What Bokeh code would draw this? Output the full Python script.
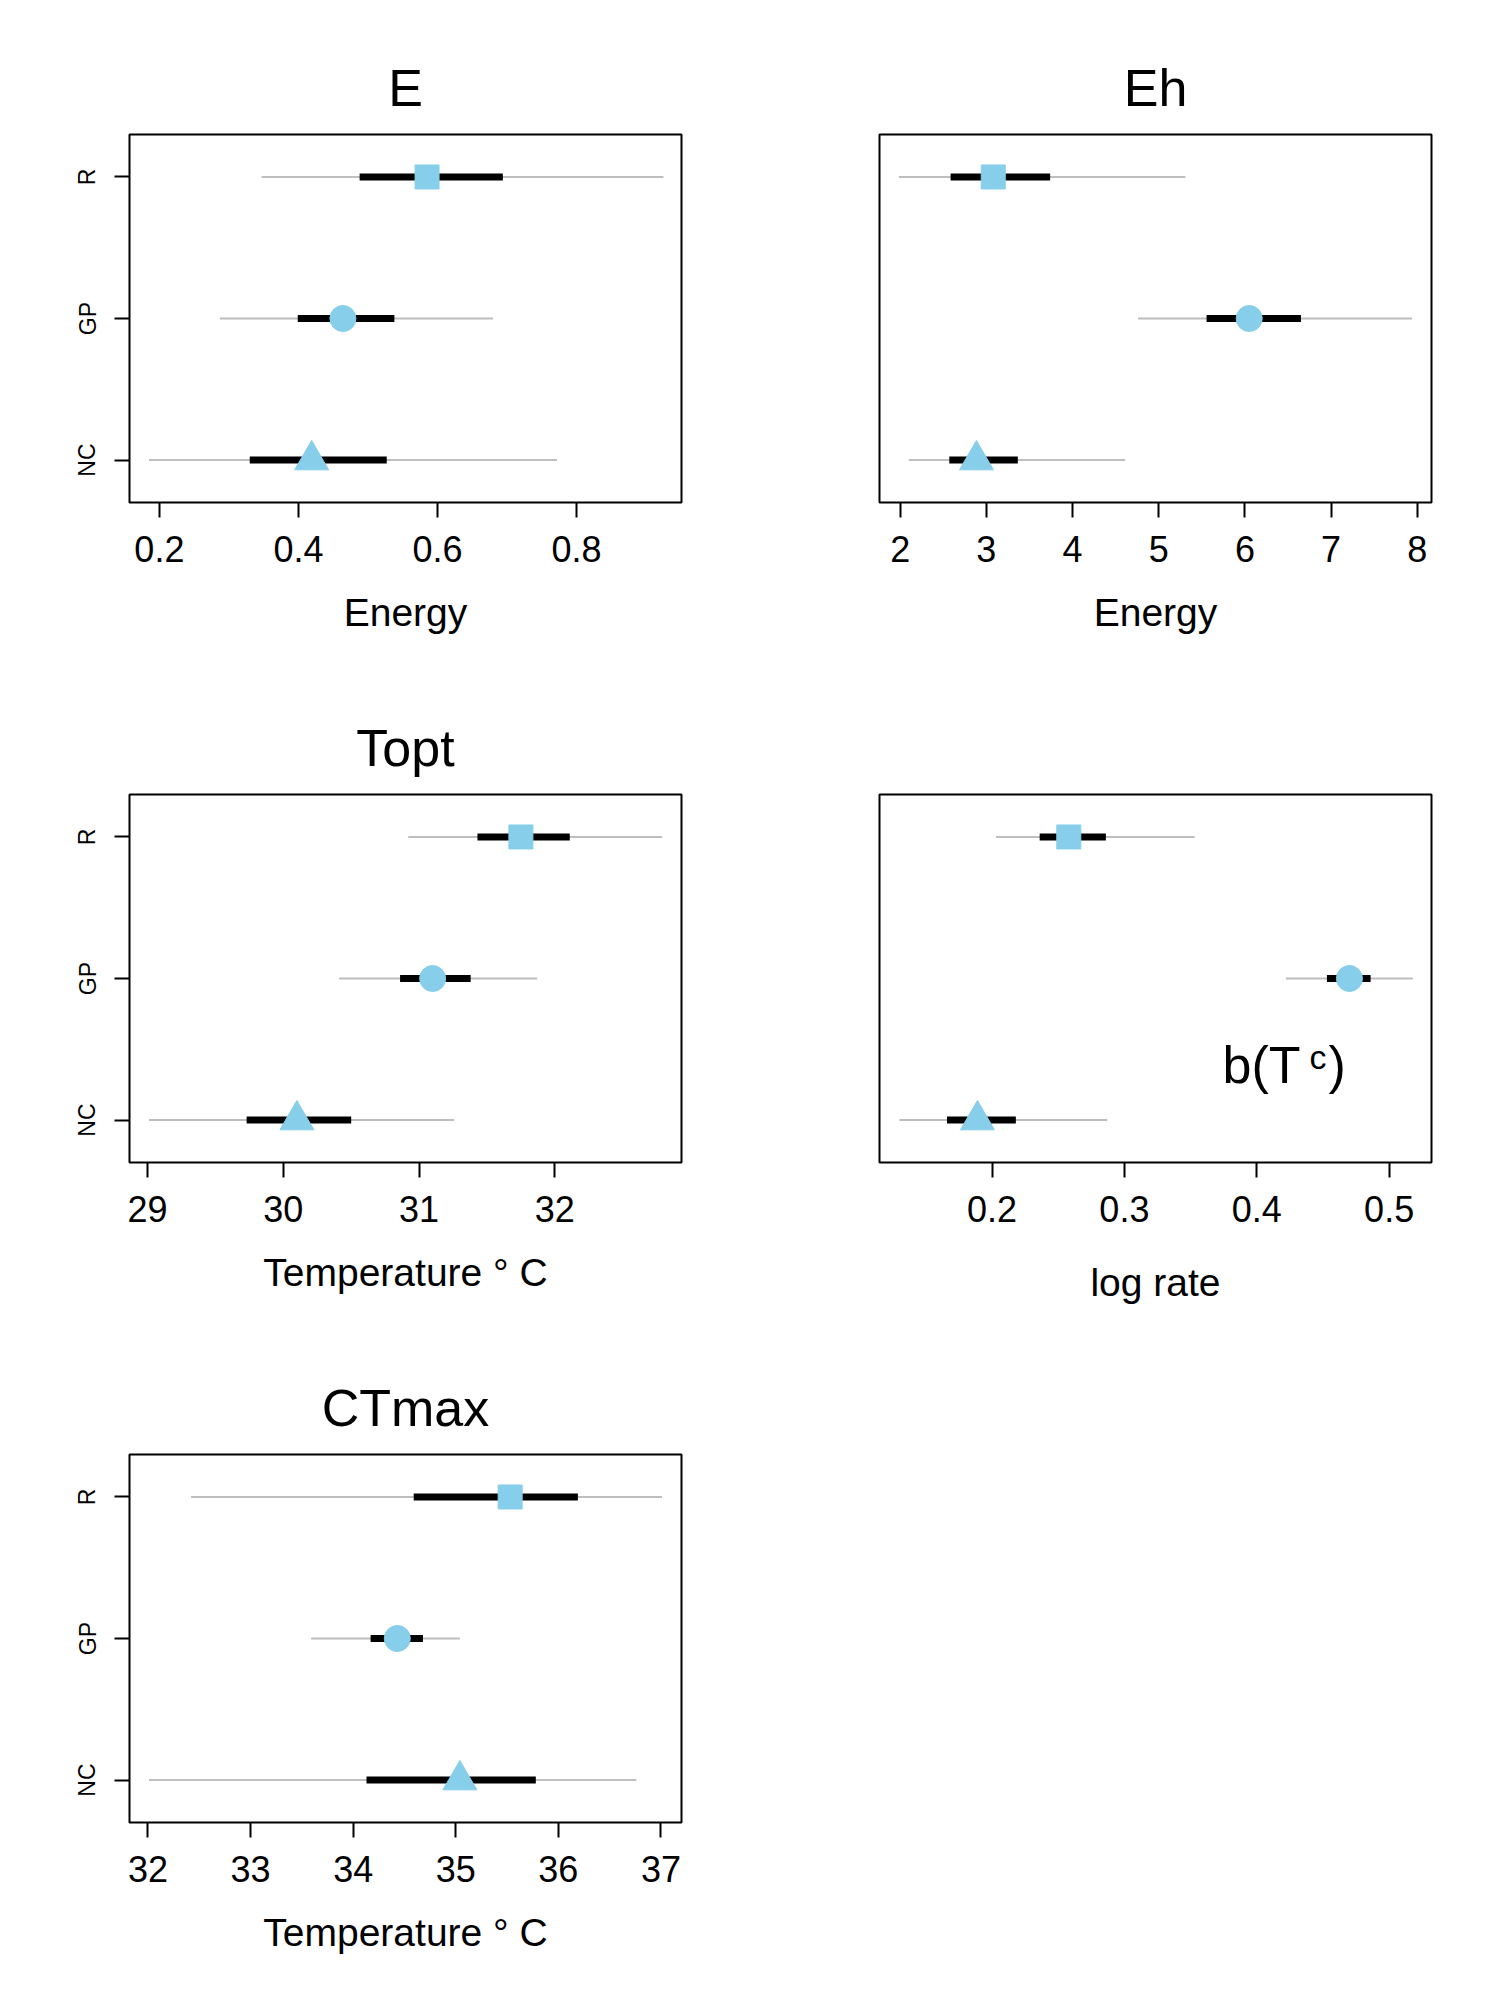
from bokeh.plotting import figure
from bokeh.layouts import gridplot
from bokeh.models import FixedTicker, Range1d, Label
from bokeh.embed import file_html
from bokeh.resources import INLINE

groups = ["NC", "GP", "R"]

panels = [
    dict(title="E", xlabel="Energy", xr=(0.157, 0.951), ticks=[0.2, 0.4, 0.6, 0.8],
         gray_lo=[0.185, 0.287, 0.347], gray_hi=[0.772, 0.680, 0.925],
         blk_lo=[0.330, 0.399, 0.488], blk_hi=[0.527, 0.538, 0.694],
         pt=[0.419, 0.464, 0.585], left_axis=True),
    dict(title="Eh", xlabel="Energy", xr=(1.76, 8.165), ticks=[2, 3, 4, 5, 6, 7, 8],
         gray_lo=[2.10, 4.76, 1.985], gray_hi=[4.61, 7.94, 5.31],
         blk_lo=[2.57, 5.555, 2.585], blk_hi=[3.365, 6.65, 3.74],
         pt=[2.885, 6.05, 3.08], left_axis=False),
    dict(title="Topt", xlabel="Temperature \u00b0 C", xr=(28.867, 32.933), ticks=[29, 30, 31, 32],
         gray_lo=[29.01, 30.41, 30.92], gray_hi=[31.26, 31.87, 32.79],
         blk_lo=[29.73, 30.86, 31.43], blk_hi=[30.50, 31.38, 32.11],
         pt=[30.10, 31.10, 31.75], left_axis=True),
    dict(title="", xlabel="log rate", xr=(0.115, 0.532), ticks=[0.2, 0.3, 0.4, 0.5],
         gray_lo=[0.130, 0.422, 0.203], gray_hi=[0.287, 0.518, 0.353],
         blk_lo=[0.166, 0.453, 0.236], blk_hi=[0.218, 0.486, 0.286],
         pt=[0.189, 0.470, 0.258], left_axis=False),
    dict(title="CTmax", xlabel="Temperature \u00b0 C", xr=(31.82, 37.2), ticks=[32, 33, 34, 35, 36, 37],
         gray_lo=[32.01, 33.59, 32.42], gray_hi=[36.76, 35.04, 37.01],
         blk_lo=[34.13, 34.17, 34.59], blk_hi=[35.78, 34.68, 36.19],
         pt=[35.04, 34.43, 35.53], left_axis=True),
]

FONT = "Liberation Sans"
SKY = "#87CEEB"
W, H = 750, 660
BL, BR, BT, BB = 129, 69, 134, 158

def make(d):
    p = figure(width=W, height=H, output_backend="svg", toolbar_location=None,
               x_range=Range1d(*d["xr"]), y_range=Range1d(0.7, 3.3),
               min_border_left=BL, min_border_right=BR, min_border_top=BT,
               min_border_bottom=BB, title=d["title"] if d["title"] else None)
    if d["title"]:
        p.title.text_font = FONT
        p.title.text_font_size = "52px"
        p.title.text_font_style = "normal"
        p.title.text_color = "black"
        p.title.align = "center"
        p.title.standoff = 36
    p.grid.visible = False
    p.outline_line_color = "black"
    p.outline_line_width = 2
    p.background_fill_color = "white"
    ys = [1, 2, 3]
    p.segment(x0=d["gray_lo"], x1=d["gray_hi"], y0=ys, y1=ys, line_color="#BEBEBE", line_width=2)
    p.segment(x0=d["blk_lo"], x1=d["blk_hi"], y0=ys, y1=ys, line_color="black", line_width=7)
    p.scatter(x=[d["pt"][0]], y=[1], marker="triangle", size=34, fill_color=SKY, line_color=SKY)
    p.scatter(x=[d["pt"][1]], y=[2], marker="circle", size=26, fill_color=SKY, line_color=SKY)
    p.scatter(x=[d["pt"][2]], y=[3], marker="square", size=24, fill_color=SKY, line_color=SKY)

    xa = p.xaxis[0]
    xa.ticker = FixedTicker(ticks=d["ticks"])
    xa.minor_tick_line_color = None
    xa.axis_line_color = None
    xa.major_tick_out = 15
    xa.major_tick_in = 0
    xa.major_tick_line_width = 2
    xa.major_label_text_font = FONT
    xa.major_label_text_font_size = "36px"
    xa.major_label_text_color = "black"
    xa.major_label_standoff = 18
    xa.axis_label = d["xlabel"]
    xa.axis_label_text_font = FONT
    xa.axis_label_text_font_size = "39px"
    xa.axis_label_text_font_style = "normal"
    xa.axis_label_text_color = "black"
    xa.axis_label_standoff = 26 if d["xlabel"] != "log rate" else 36

    ya = p.yaxis[0]
    ya.ticker = FixedTicker(ticks=[1, 2, 3])
    ya.minor_tick_line_color = None
    ya.axis_line_color = None
    ya.major_tick_out = 15
    ya.major_tick_in = 0
    ya.major_tick_line_width = 2
    if d["left_axis"]:
        ya.major_label_overrides = {1: "NC", 2: "GP", 3: "R"}
        ya.major_label_orientation = "vertical"
        ya.major_label_text_font = FONT
        ya.major_label_text_font_size = "23px"
        ya.major_label_text_color = "black"
        ya.major_label_standoff = 14
    else:
        ya.major_label_text_color = None
        ya.major_tick_line_color = None

    if not d["title"]:
        # b(T_c) title built from pieces, screen coordinates (y from top)
        cx = BL + (W - BL - BR) / 2
        base = 98
        p.add_layout(Label(x=cx - 62, y=base, x_units="screen", y_units="screen", text="b(T",
                           text_font=FONT, text_font_size="52px", text_align="left",
                           text_baseline="alphabetic", text_color="black"))
        p.add_layout(Label(x=cx + 25, y=base + 8, x_units="screen", y_units="screen", text="c",
                           text_font=FONT, text_font_size="34px", text_align="left",
                           text_baseline="alphabetic", text_color="black"))
        p.add_layout(Label(x=cx + 44, y=base, x_units="screen", y_units="screen", text=")",
                           text_font=FONT, text_font_size="52px", text_align="left",
                           text_baseline="alphabetic", text_color="black"))
    return p

figs = [make(d) for d in panels]
grid = gridplot([[figs[0], figs[1]], [figs[2], figs[3]], [figs[4], None]],
                toolbar_location=None)
open("out.html", "w").write(file_html(grid, INLINE))
